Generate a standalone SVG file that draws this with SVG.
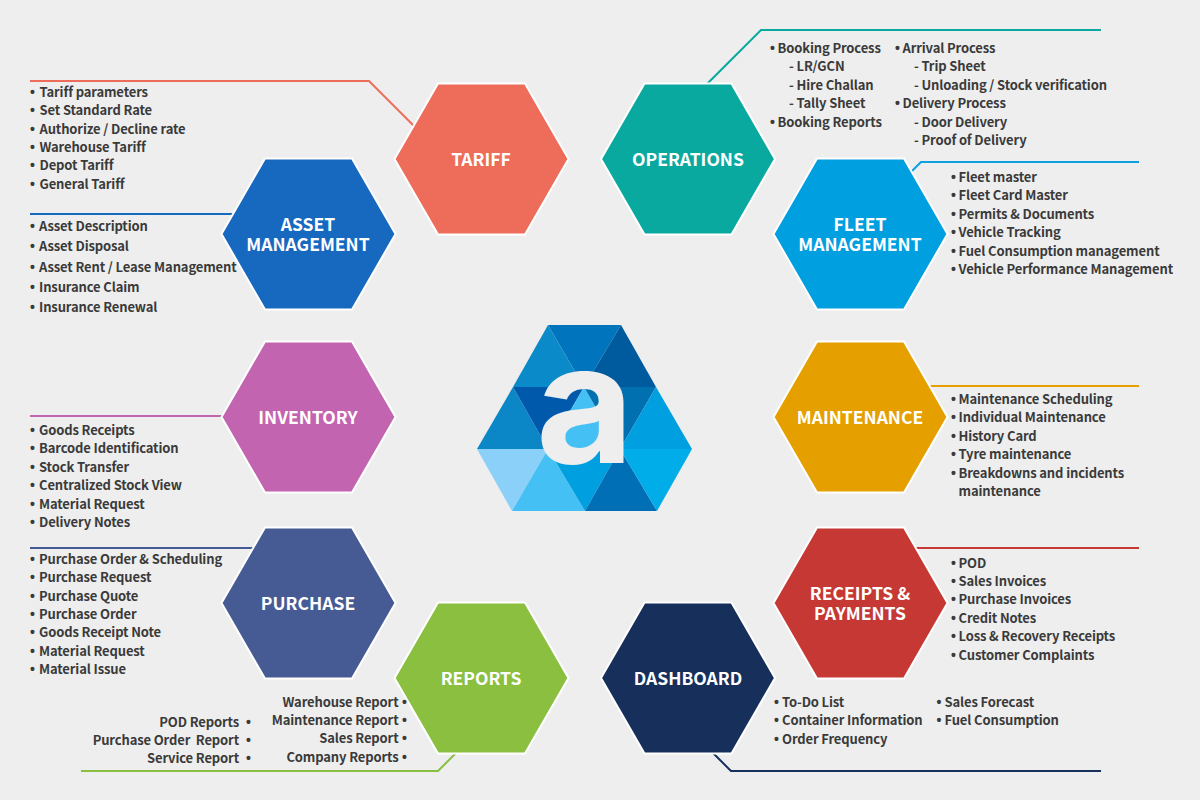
<svg xmlns="http://www.w3.org/2000/svg" width="1200" height="800" viewBox="0 0 1200 800">
<style>
text{font-family:"Noto Sans CJK SC","Noto Sans",sans-serif;font-weight:700}
.t{font-size:13px;fill:#3a3a3a;letter-spacing:-.13px}
.b{font-family:"Liberation Sans",sans-serif;font-size:14px}
.e{text-anchor:end}
.h{font-size:17.500px;fill:#fff;text-anchor:middle}
.hex{stroke:#fff;stroke-width:2}
.c{fill:none;stroke-width:2}
</style>
<defs><polygon id="hx" points="-87,0 -43.500,-75.500 43.500,-75.500 87,0 43.500,75.500 -43.500,75.500"/></defs>
<rect width="1200" height="800" fill="#eeeeee"/>
<g id="connectors">
<polyline class="c" stroke="#ee6c5a" points="30,81 369,81 415,127"/>
<polyline class="c" stroke="#1769c0" points="30,214 237,214"/>
<polyline class="c" stroke="#0aa99f" points="706,85 761,30 1101,30"/>
<polyline class="c" stroke="#0ea0e0" points="911,172 921,162 1139,162"/>
<polyline class="c" stroke="#e5a000" points="930,386 1139,386"/>
<polyline class="c" stroke="#c264b0" points="30,416 224,416"/>
<polyline class="c" stroke="#465a94" points="30,548 256,548"/>
<polyline class="c" stroke="#c53833" points="916,548 1139,548"/>
<polyline class="c" stroke="#8abf40" points="81,771 438,771 457,752"/>
<polyline class="c" stroke="#162f5b" points="713,753 731,771 1101,771"/>
</g>
<g id="logo">
<polygon fill="#0075bd" points="548,325 621,325 584,387"/>
<polygon fill="#0b8ac9" points="548,325 584,387 513,387"/>
<polygon fill="#005a9e" points="621,325 656,387 584,387"/>
<polygon fill="#0b87c8" points="513,387 477,449 548,449"/>
<polygon fill="#0059ab" points="513,387 584,387 548,449"/>
<polygon fill="#45c0f5" points="584,387 548,449 620,449"/>
<polygon fill="#0070b0" points="584,387 656,387 620,449"/>
<polygon fill="#009fe0" points="656,387 692,449 620,449"/>
<polygon fill="#8bd0f8" points="477,449 548,449 512,511"/>
<polygon fill="#45c0f5" points="548,449 512,511 585,511"/>
<polygon fill="#009fe0" points="548,449 620,449 585,511"/>
<polygon fill="#006fb5" points="620,449 585,511 657,511"/>
<polygon fill="#00ade8" points="620,449 692,449 657,511"/>
<rect x="566" y="418" width="42" height="34" fill="#45c0f5"/>
<text x="585" y="463" text-anchor="middle" style="font-family:'Inter',sans-serif;font-weight:700;font-size:166px;fill:#eeeeee" textLength="98" lengthAdjust="spacingAndGlyphs">a</text>
</g>
<g id="tariff"><use href="#hx" class="hex" fill="#ee6c5a" x="481.500" y="159"/><text class="h" x="481" y="166">TARIFF</text>
<text class="t" y="97"><tspan class="b" x="30">•</tspan><tspan x="39.500">Tariff parameters</tspan></text><text class="t" y="115"><tspan class="b" x="30">•</tspan><tspan x="39.500">Set Standard Rate</tspan></text><text class="t" y="134"><tspan class="b" x="30">•</tspan><tspan x="39.500">Authorize / Decline rate</tspan></text><text class="t" y="152"><tspan class="b" x="30">•</tspan><tspan x="39.500">Warehouse Tariff</tspan></text><text class="t" y="170"><tspan class="b" x="30">•</tspan><tspan x="39.500">Depot Tariff</tspan></text><text class="t" y="189"><tspan class="b" x="30">•</tspan><tspan x="39.500">General Tariff</tspan></text></g>
<g id="operations"><use href="#hx" class="hex" fill="#0aa99f" x="688" y="159"/><text class="h" x="688" y="166">OPERATIONS</text>
<text class="t" y="53"><tspan class="b" x="770">•</tspan><tspan x="777.500">Booking Process</tspan></text><text class="t" x="789" y="71">- LR/GCN</text><text class="t" x="789" y="90">- Hire Challan</text><text class="t" x="789" y="108">- Tally Sheet</text><text class="t" y="127"><tspan class="b" x="770">•</tspan><tspan x="777.500">Booking Reports</tspan></text>
<text class="t" y="53"><tspan class="b" x="895">•</tspan><tspan x="902.500">Arrival Process</tspan></text><text class="t" x="914" y="71">- Trip Sheet</text><text class="t" x="914" y="90">- Unloading / Stock verification</text><text class="t" y="108"><tspan class="b" x="895">•</tspan><tspan x="902.500">Delivery Process</tspan></text><text class="t" x="914" y="127">- Door Delivery</text><text class="t" x="914" y="145">- Proof of Delivery</text></g>
<g id="asset-management"><use href="#hx" class="hex" fill="#1769c0" x="308.500" y="234"/><text class="h" x="308" y="231">ASSET</text><text class="h" x="308" y="251">MANAGEMENT</text>
<text class="t" y="231"><tspan class="b" x="30">•</tspan><tspan x="39">Asset Description</tspan></text><text class="t" y="251"><tspan class="b" x="30">•</tspan><tspan x="39">Asset Disposal</tspan></text><text class="t" y="272"><tspan class="b" x="30">•</tspan><tspan x="39">Asset Rent / Lease Management</tspan></text><text class="t" y="292"><tspan class="b" x="30">•</tspan><tspan x="39">Insurance Claim</tspan></text><text class="t" y="312"><tspan class="b" x="30">•</tspan><tspan x="39">Insurance Renewal</tspan></text></g>
<g id="fleet-management"><use href="#hx" class="hex" fill="#009fe0" x="860.500" y="234"/><text class="h" x="860" y="231">FLEET</text><text class="h" x="860" y="251">MANAGEMENT</text>
<text class="t" y="182"><tspan class="b" x="951">•</tspan><tspan x="958.500">Fleet master</tspan></text><text class="t" y="200"><tspan class="b" x="951">•</tspan><tspan x="958.500">Fleet Card Master</tspan></text><text class="t" y="219"><tspan class="b" x="951">•</tspan><tspan x="958.500">Permits &amp; Documents</tspan></text><text class="t" y="237"><tspan class="b" x="951">•</tspan><tspan x="958.500">Vehicle Tracking</tspan></text><text class="t" y="256"><tspan class="b" x="951">•</tspan><tspan x="958.500">Fuel Consumption management</tspan></text><text class="t" y="274"><tspan class="b" x="951">•</tspan><tspan x="958.500">Vehicle Performance Management</tspan></text></g>
<g id="inventory"><use href="#hx" class="hex" fill="#c264b0" x="308.500" y="417"/><text class="h" x="308" y="424">INVENTORY</text>
<text class="t" y="435"><tspan class="b" x="30">•</tspan><tspan x="39">Goods Receipts</tspan></text><text class="t" y="453"><tspan class="b" x="30">•</tspan><tspan x="39">Barcode Identification</tspan></text><text class="t" y="472"><tspan class="b" x="30">•</tspan><tspan x="39">Stock Transfer</tspan></text><text class="t" y="490"><tspan class="b" x="30">•</tspan><tspan x="39">Centralized Stock View</tspan></text><text class="t" y="509"><tspan class="b" x="30">•</tspan><tspan x="39">Material Request</tspan></text><text class="t" y="527"><tspan class="b" x="30">•</tspan><tspan x="39">Delivery Notes</tspan></text></g>
<g id="maintenance"><use href="#hx" class="hex" fill="#e5a000" x="860.500" y="417"/><text class="h" x="860" y="424">MAINTENANCE</text>
<text class="t" y="404"><tspan class="b" x="951">•</tspan><tspan x="958.500">Maintenance Scheduling</tspan></text><text class="t" y="422"><tspan class="b" x="951">•</tspan><tspan x="958.500">Individual Maintenance</tspan></text><text class="t" y="441"><tspan class="b" x="951">•</tspan><tspan x="958.500">History Card</tspan></text><text class="t" y="459"><tspan class="b" x="951">•</tspan><tspan x="958.500">Tyre maintenance</tspan></text><text class="t" y="478"><tspan class="b" x="951">•</tspan><tspan x="958.500">Breakdowns and incidents</tspan></text><text class="t" x="958.500" y="496">maintenance</text></g>
<g id="purchase"><use href="#hx" class="hex" fill="#465a94" x="308.500" y="603"/><text class="h" x="308" y="610">PURCHASE</text>
<text class="t" y="564"><tspan class="b" x="30">•</tspan><tspan x="39">Purchase Order &amp; Scheduling</tspan></text><text class="t" y="582"><tspan class="b" x="30">•</tspan><tspan x="39">Purchase Request</tspan></text><text class="t" y="601"><tspan class="b" x="30">•</tspan><tspan x="39">Purchase Quote</tspan></text><text class="t" y="619"><tspan class="b" x="30">•</tspan><tspan x="39">Purchase Order</tspan></text><text class="t" y="637"><tspan class="b" x="30">•</tspan><tspan x="39">Goods Receipt Note</tspan></text><text class="t" y="656"><tspan class="b" x="30">•</tspan><tspan x="39">Material Request</tspan></text><text class="t" y="674"><tspan class="b" x="30">•</tspan><tspan x="39">Material Issue</tspan></text></g>
<g id="receipts-payments"><use href="#hx" class="hex" fill="#c53833" x="860.500" y="603"/><text class="h" x="860" y="600">RECEIPTS &amp;</text><text class="h" x="860" y="620">PAYMENTS</text>
<text class="t" y="568"><tspan class="b" x="951">•</tspan><tspan x="958.500">POD</tspan></text><text class="t" y="586"><tspan class="b" x="951">•</tspan><tspan x="958.500">Sales Invoices</tspan></text><text class="t" y="604"><tspan class="b" x="951">•</tspan><tspan x="958.500">Purchase Invoices</tspan></text><text class="t" y="623"><tspan class="b" x="951">•</tspan><tspan x="958.500">Credit Notes</tspan></text><text class="t" y="641"><tspan class="b" x="951">•</tspan><tspan x="958.500">Loss &amp; Recovery Receipts</tspan></text><text class="t" y="660"><tspan class="b" x="951">•</tspan><tspan x="958.500">Customer Complaints</tspan></text></g>
<g id="reports"><use href="#hx" class="hex" fill="#8abf40" x="481.500" y="678"/><text class="h" x="481" y="685">REPORTS</text>
<text class="t e" x="398.500" y="707">Warehouse Report</text><text class="t b" x="402" y="707">•</text><text class="t e" x="398.500" y="725">Maintenance Report</text><text class="t b" x="402" y="725">•</text><text class="t e" x="398.500" y="743">Sales Report</text><text class="t b" x="402" y="743">•</text><text class="t e" x="398.500" y="762">Company Reports</text><text class="t b" x="402" y="762">•</text>
<text class="t e" x="239" y="727">POD Reports</text><text class="t b" x="246" y="727">•</text><text class="t e" x="239" y="745" xml:space="preserve">Purchase Order  Report</text><text class="t b" x="246" y="745">•</text><text class="t e" x="239" y="763">Service Report</text><text class="t b" x="246" y="763">•</text></g>
<g id="dashboard"><use href="#hx" class="hex" fill="#162f5b" x="688" y="678"/><text class="h" x="688" y="685">DASHBOARD</text>
<text class="t" y="707"><tspan class="b" x="774">•</tspan><tspan x="782">To-Do List</tspan></text><text class="t" y="725"><tspan class="b" x="774">•</tspan><tspan x="782">Container Information</tspan></text><text class="t" y="744"><tspan class="b" x="774">•</tspan><tspan x="782">Order Frequency</tspan></text>
<text class="t" y="707"><tspan class="b" x="936.500">•</tspan><tspan x="944.500">Sales Forecast</tspan></text><text class="t" y="725"><tspan class="b" x="936.500">•</tspan><tspan x="944.500">Fuel Consumption</tspan></text></g>
</svg>
